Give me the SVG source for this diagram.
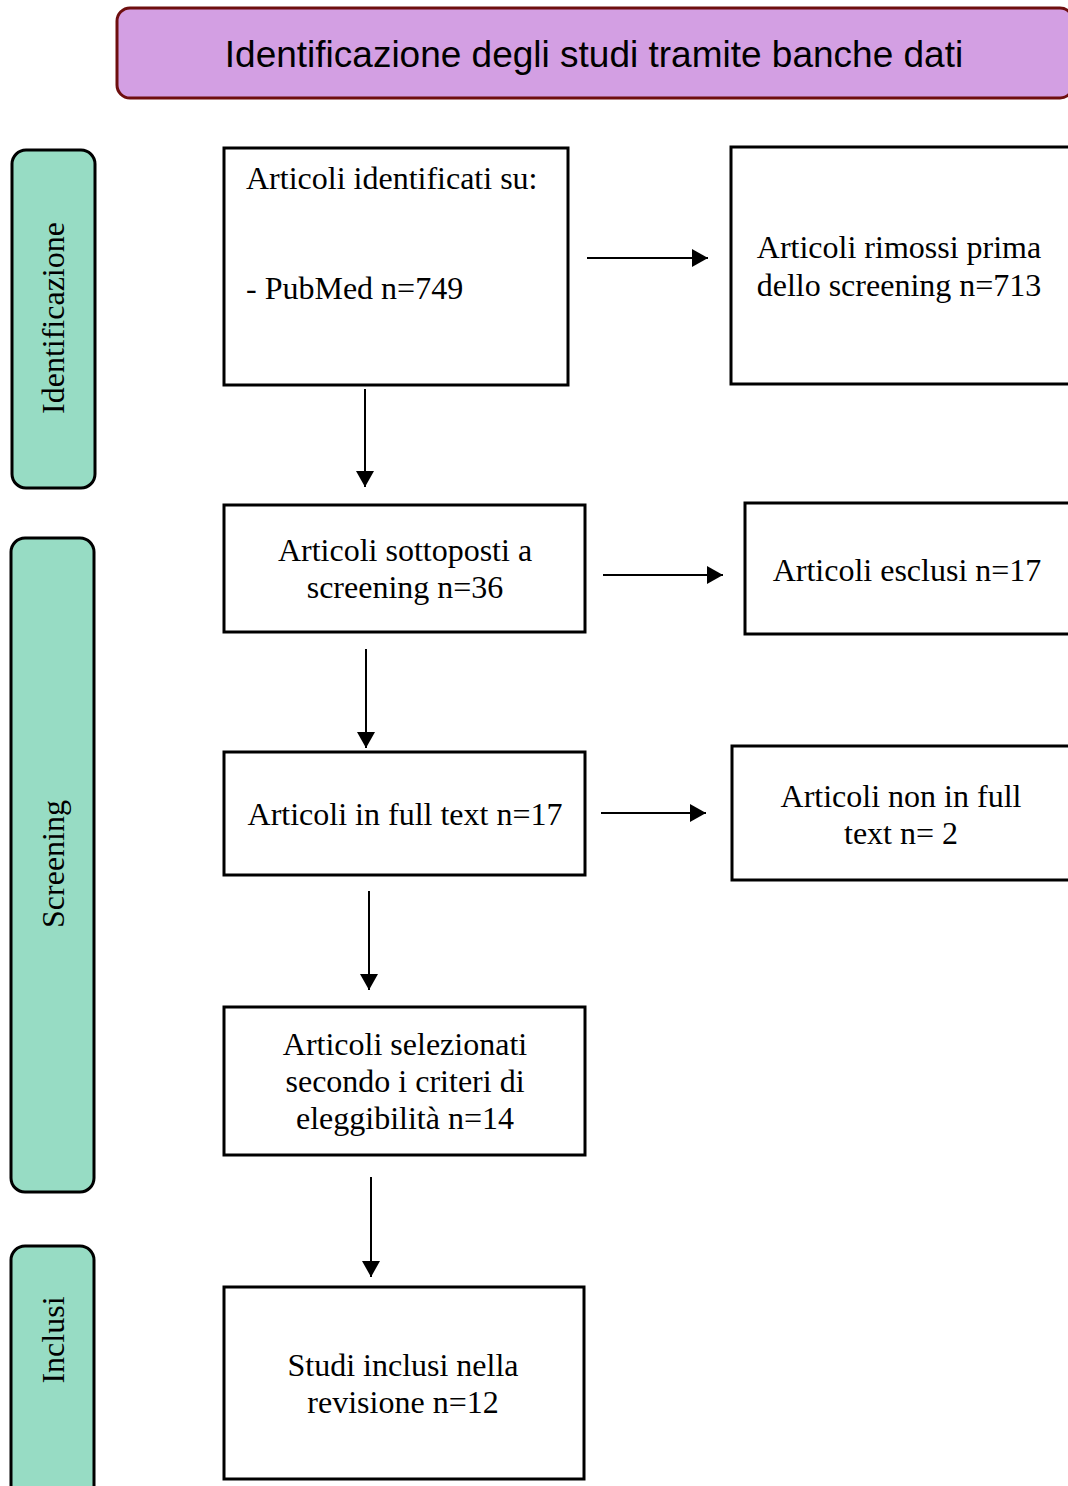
<svg xmlns="http://www.w3.org/2000/svg" width="1068" height="1486" viewBox="0 0 1068 1486">
<style>
.box{fill:#fff;stroke:#000;stroke-width:3}
.side{fill:#97DCC4;stroke:#000;stroke-width:3}
.t{font-family:"Liberation Serif","Times New Roman",serif;font-size:32px;fill:#000}
.c{text-anchor:middle}
.con{stroke:#000;stroke-width:2;fill:none;marker-end:url(#ah)}
</style>
<defs>
<marker id="ah" viewBox="0 0 10 10" refX="10" refY="5" markerWidth="8" markerHeight="9" markerUnits="strokeWidth" orient="auto" preserveAspectRatio="none">
<path d="M0,0 L10,5 L0,10 z" fill="#000"/>
</marker>
</defs>
<rect width="1068" height="1486" fill="#fff"/>
<g id="header">
<rect x="117" y="8" width="956" height="90" rx="13" fill="#D39FE3" stroke="#6E0F0F" stroke-width="3"/>
<text x="594" y="67" text-anchor="middle" font-family="'Liberation Sans',Arial,sans-serif" font-size="37" fill="#000">Identificazione degli studi tramite banche dati</text>
</g>
<g id="lane-identificazione">
<rect class="side" x="12" y="150" width="83" height="338" rx="14"/>
<text class="t c" transform="translate(64,318) rotate(-90)">Identificazione</text>
</g>
<g id="lane-screening">
<rect class="side" x="11" y="538" width="83" height="654" rx="14"/>
<text class="t c" transform="translate(64,864) rotate(-90)">Screening</text>
</g>
<g id="lane-inclusi">
<rect class="side" x="11" y="1246" width="83" height="260" rx="14"/>
<text class="t c" transform="translate(64,1340) rotate(-90)">Inclusi</text>
</g>
<g id="n1">
<rect class="box" x="224" y="148" width="344" height="237"/>
<text class="t" x="246" y="189">Articoli identificati su:</text>
<text class="t" x="246" y="299">- PubMed n=749</text>
</g>
<g id="n2">
<rect class="box" x="731" y="147" width="345" height="237"/>
<text class="t c" x="899" y="258">Articoli rimossi prima</text>
<text class="t c" x="899" y="296">dello screening n=713</text>
</g>
<g id="n3">
<rect class="box" x="224" y="505" width="361" height="127"/>
<text class="t c" x="405" y="561">Articoli sottoposti a</text>
<text class="t c" x="405" y="598">screening n=36</text>
</g>
<g id="n4">
<rect class="box" x="745" y="503" width="331" height="131"/>
<text class="t c" x="907" y="581">Articoli esclusi n=17</text>
</g>
<g id="n5">
<rect class="box" x="224" y="752" width="361" height="123"/>
<text class="t c" x="405" y="825">Articoli in full text n=17</text>
</g>
<g id="n6">
<rect class="box" x="732" y="746" width="344" height="134"/>
<text class="t c" x="901" y="807">Articoli non in full</text>
<text class="t c" x="901" y="844">text n= 2</text>
</g>
<g id="n7">
<rect class="box" x="224" y="1007" width="361" height="148"/>
<text class="t c" x="405" y="1055">Articoli selezionati</text>
<text class="t c" x="405" y="1092">secondo i criteri di</text>
<text class="t c" x="405" y="1129">eleggibilità n=14</text>
</g>
<g id="n8">
<rect class="box" x="224" y="1287" width="360" height="192"/>
<text class="t c" x="403" y="1376">Studi inclusi nella</text>
<text class="t c" x="403" y="1413">revisione n=12</text>
</g>
<g id="connectors">
<line class="con" x1="587" y1="258" x2="708" y2="258"/>
<line class="con" x1="603" y1="575" x2="723" y2="575"/>
<line class="con" x1="601" y1="813" x2="706" y2="813"/>
<line class="con" x1="365" y1="389" x2="365" y2="487"/>
<line class="con" x1="366" y1="649" x2="366" y2="748"/>
<line class="con" x1="369" y1="891" x2="369" y2="990"/>
<line class="con" x1="371" y1="1177" x2="371" y2="1277"/>
</g>
</svg>
